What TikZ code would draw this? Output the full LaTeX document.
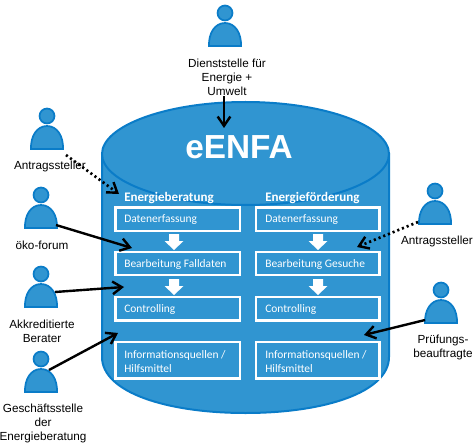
\documentclass[tikz,border=0pt]{standalone}
\usepackage{fontspec}
\setmainfont{Liberation Sans}
\newfontfamily\calfont{Carlito}
\usetikzlibrary{arrows.meta}
\definecolor{fillblue}{HTML}{3095D1}
\definecolor{lineblue}{HTML}{0A7CC8}
\tikzset{
  personpart/.style={fill=fillblue,draw=lineblue,line width=1.3pt},
  lab/.style={font=\fontsize{8.8}{10.5}\selectfont,align=center,text=black,inner sep=0pt},
  boxbox/.style={draw=white,line width=1.9pt,fill=fillblue},
  boxtext/.style={font=\calfont\fontsize{8.6}{10.5}\selectfont,text=white,anchor=west,align=left,inner sep=0pt},
  headtext/.style={font=\calfont\bfseries\fontsize{9.8}{11}\selectfont,text=white,anchor=west,inner sep=0pt},
  conn/.style={draw=black,line width=1.8pt,-{Straight Barb[length=7pt,width=9.5pt,line width=1.8pt]}},
  dotconn/.style={draw=black,line width=2pt,dash pattern=on 1.6pt off 2.2pt,-{Straight Barb[length=7pt,width=9.5pt,line width=1.8pt]}},
  downarrow/.style={fill=white,draw=none},
}
\newcommand{\persondraw}[3]{% name, head x, head y
  \draw[personpart] (#2-16,#3+33) .. controls (#2-16.5,#3+20) and (#2-10,#3+10) .. (#2,#3+10)
     .. controls (#2+10,#3+10) and (#2+16.5,#3+20) .. (#2+16,#3+33) -- cycle;
  \node[personpart,circle,inner sep=0pt,minimum size=11.2pt] (#1) at (#2,#3) {};
}
\newcommand{\whitearrow}[2]{% centre x, top y
  \fill[downarrow] (#1-5,#2) -- (#1+5,#2) -- (#1+5,#2+7) -- (#1+9.5,#2+7) -- (#1,#2+16) -- (#1-9.5,#2+7) -- (#1-5,#2+7) -- cycle;
}
\begin{document}
\begin{tikzpicture}[x=0.75pt,y=-0.75pt]
\useasboundingbox (0,0) rectangle (474,445);
% cylinder
\draw[fill=fillblue,draw=lineblue,line width=1.5pt] (102,154) -- (102,357)
  .. controls (102,392) and (166,413) .. (245.5,413)
  .. controls (325,413) and (389,392) .. (389,357) -- (389,154) -- cycle;
\draw[fill=fillblue,draw=lineblue,line width=1.5pt] (102,154)
  .. controls (102,126) and (166,102) .. (245.5,102)
  .. controls (325,102) and (389,126) .. (389,154)
  .. controls (389,182) and (325,205) .. (245.5,205)
  .. controls (166,205) and (102,182) .. (102,154) -- cycle;
\node[font=\bfseries\fontsize{25}{30}\selectfont,text=white,inner sep=0pt] (title) at (239,147) {eENFA};
% column headings
\node[headtext] (h1) at (124,198) {Energieberatung};
\node[headtext] (h2) at (265,198) {Energieförderung};
% boxes left
\draw[boxbox] (115.5,207.5) rectangle (240,231);
\draw[boxbox] (115.5,252) rectangle (240,275);
\draw[boxbox] (115.5,297) rectangle (240,320.5);
\draw[boxbox] (115.5,342) rectangle (240,378.5);
% boxes right
\draw[boxbox] (256,207.5) rectangle (379.5,231);
\draw[boxbox] (256,252) rectangle (379.5,275);
\draw[boxbox] (256,297) rectangle (379.5,320.5);
\draw[boxbox] (256,342) rectangle (379.5,378.5);
% box texts
\node[boxtext] (a1) at (124,220) {Datenerfassung};
\node[boxtext] (a2) at (124,265) {Bearbeitung Falldaten};
\node[boxtext] (a3) at (124,310) {Controlling};
\node[boxtext] (a4) at (124,362) {Informationsquellen /\\Hilfsmittel};
\node[boxtext] (b1) at (265,220) {Datenerfassung};
\node[boxtext] (b2) at (265,265) {Bearbeitung Gesuche};
\node[boxtext] (b3) at (265,310) {Controlling};
\node[boxtext] (b4) at (265,362) {Informationsquellen /\\Hilfsmittel};
% white arrows
\whitearrow{174}{234}
\whitearrow{174}{279}
\whitearrow{318}{234}
\whitearrow{318}{279}
% persons
\persondraw{p1}{225}{13}
\persondraw{p2}{47}{116}
\persondraw{p3}{41}{195}
\persondraw{p4}{41}{274}
\persondraw{p5}{41}{359}
\persondraw{p6}{435}{191}
\persondraw{p7}{441}{290}
% labels
\node[lab] (l1) at (227,77) {Dienststelle für\\Energie +\\Umwelt};
\node[lab] (l2) at (50,166) {Antragssteller};
\node[lab] (l3) at (42,245) {öko-forum};
\node[lab] (l4) at (42,331) {Akkreditierte\\Berater};
\node[lab] (l5) at (43,423) {Geschäftsstelle\\der\\Energieberatung};
\node[lab] (l6) at (437,241) {Antragssteller};
\node[lab] (l7) at (443,347) {Prüfungs-\\beauftragte};
% connector ends
\coordinate (s1) at (224,96);   \coordinate (e1) at (224,128);
\coordinate (s2) at (66,155);   \coordinate (e2) at (119,194);
\coordinate (s3) at (56,225);   \coordinate (e3) at (132,248);
\coordinate (s4) at (55,292);   \coordinate (e4) at (124,287);
\coordinate (s5) at (49,370);   \coordinate (e5) at (118,333);
\coordinate (s6) at (418,222);  \coordinate (e6) at (357,247);
\coordinate (s7) at (425,320);  \coordinate (e7) at (364,335);
\draw[conn] (s1) -- (e1);
\draw[dotconn] (s2) -- (e2);
\draw[conn] (s3) -- (e3);
\draw[conn] (s4) -- (e4);
\draw[conn] (s5) -- (e5);
\draw[dotconn] (s6) -- (e6);
\draw[conn] (s7) -- (e7);
\end{tikzpicture}
\end{document}
